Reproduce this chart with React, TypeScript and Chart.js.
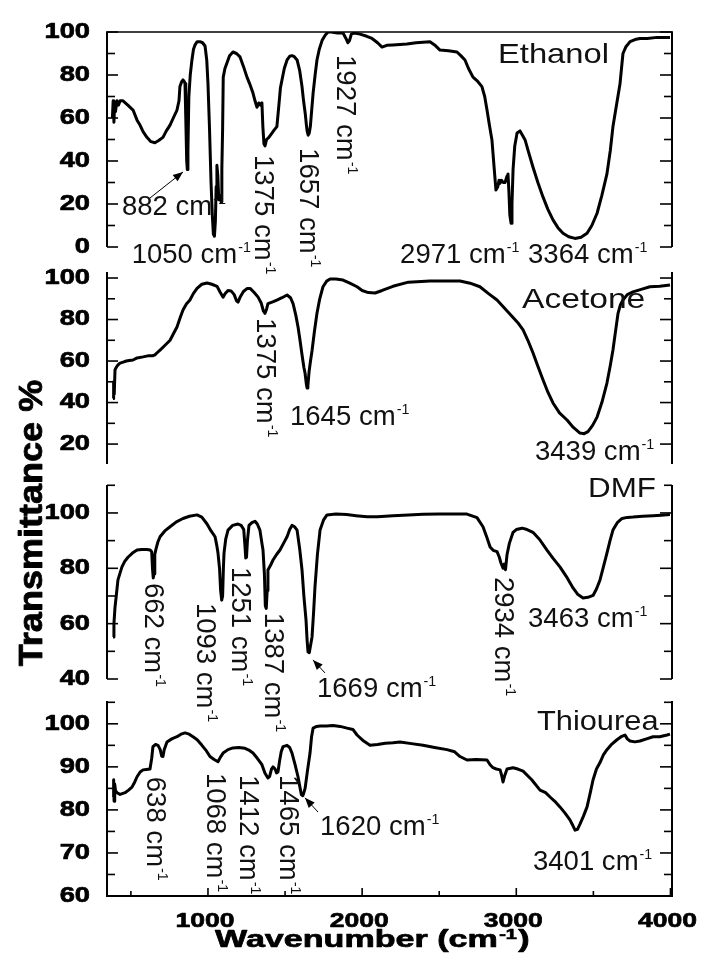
import React, { useEffect, useRef } from 'react';
import { Chart, registerables } from 'chart.js';
Chart.register(...registerables);

const W = 704;
const H = 976;
const X_MIN = 345;
const X_MAX = 4010;

// ---------- data ----------
const ethanolWn = [380, 385, 390, 395, 400, 410, 420, 430, 449, 480, 514, 540, 559, 580, 604, 630, 656, 680, 708, 730, 754, 775, 799, 812, 818, 830, 838, 846, 851, 856, 862, 866, 870, 876, 885, 896, 906, 916, 930, 948, 965, 981, 992, 1000, 1010, 1020, 1028, 1035, 1042, 1048, 1053, 1058, 1064, 1070, 1078, 1085, 1090, 1095, 1099, 1110, 1123, 1140, 1162, 1185, 1208, 1230, 1253, 1270, 1292, 1305, 1318, 1330, 1340, 1350, 1356, 1363, 1370, 1380, 1395, 1415, 1430, 1447, 1460, 1470, 1480, 1495, 1513, 1530, 1545, 1560, 1578, 1595, 1610, 1620, 1631, 1638, 1643, 1650, 1657, 1664, 1672, 1682, 1695, 1707, 1722, 1740, 1760, 1779, 1800, 1840, 1876, 1895, 1908, 1918, 1930, 1950, 1986, 2030, 2064, 2100, 2129, 2160, 2200, 2291, 2350, 2440, 2470, 2505, 2560, 2615, 2640, 2667, 2690, 2719, 2750, 2777, 2795, 2810, 2825, 2842, 2855, 2868, 2880, 2888, 2894, 2905, 2915, 2927, 2940, 2946, 2952, 2958, 2966, 2972, 2979, 2990, 3005, 3024, 3040, 3057, 3080, 3108, 3140, 3173, 3205, 3238, 3270, 3303, 3340, 3381, 3420, 3459, 3490, 3524, 3555, 3588, 3610, 3627, 3650, 3673, 3685, 3692, 3710, 3738, 3770, 3802, 3850, 3913, 3960, 3997];
const ethanolT = [60, 68, 58, 67, 63, 68, 66, 68, 68, 66, 63.7, 59, 56.7, 53.5, 51, 49, 48.5, 49.5, 51, 54, 56.7, 60, 63.7, 68, 74.6, 77, 77.7, 77, 76, 60, 40, 36, 45, 70, 80, 87, 92, 94, 95.5, 95.5, 95, 93.5, 87, 76, 55, 29.8, 15, 6, 5, 12, 28, 38, 33, 22, 24, 21, 36, 55, 79, 83, 85.6, 89, 90.7, 90, 88.4, 84, 79, 76, 71.6, 68, 65, 67, 66, 67, 56, 48, 47, 50, 51, 53, 54.5, 56, 66, 74, 77.7, 83, 87, 88.7, 89, 88.5, 87, 82, 74.6, 68, 62, 57, 54, 52, 53, 56, 63, 71.6, 80, 87, 92, 96, 98.5, 100, 100, 99.5, 99.5, 97, 95, 96, 99, 99.5, 99, 98, 97, 95, 93, 93.8, 94, 94.4, 95, 95.5, 94, 91.6, 91.3, 90.7, 89, 87, 83, 79, 77, 74.6, 70, 63.7, 57, 49.8, 38, 26.5, 28, 31, 29.6, 31, 30, 30, 33, 34, 26, 15, 11, 20, 36, 47, 53, 54, 52, 49.8, 44, 37.2, 30, 23.3, 17.5, 12.6, 9, 6.4, 4.8, 4, 4.5, 6.4, 10, 15.7, 24, 34, 45, 56, 66, 76, 85, 90, 93, 95.5, 96.5, 97, 97, 97.5, 97.5, 97.5];

const acetoneWn = [384, 388, 392, 397, 405, 415, 429, 450, 470, 490, 514, 540, 579, 610, 640, 656, 670, 689, 720, 754, 775, 799, 820, 838, 860, 883, 905, 929, 960, 994, 1025, 1059, 1080, 1098, 1112, 1130, 1150, 1170, 1185, 1195, 1210, 1230, 1255, 1273, 1300, 1325, 1345, 1360, 1370, 1380, 1389, 1420, 1447, 1480, 1513, 1535, 1552, 1570, 1585, 1597, 1610, 1622, 1630, 1638, 1643, 1648, 1656, 1665, 1675, 1690, 1707, 1725, 1746, 1770, 1792, 1830, 1876, 1920, 1967, 2000, 2040, 2084, 2130, 2200, 2300, 2440, 2550, 2635, 2700, 2764, 2820, 2875, 2930, 2979, 3010, 3044, 3075, 3108, 3140, 3173, 3205, 3238, 3280, 3329, 3370, 3413, 3440, 3465, 3495, 3524, 3555, 3588, 3610, 3627, 3645, 3660, 3675, 3692, 3720, 3757, 3810, 3867, 3930, 3997];
const acetoneT = [42, 50, 44, 55.7, 57, 58, 59, 59.5, 60, 60.3, 60.5, 61.5, 62, 62.5, 62.5, 63, 64, 65.3, 67.5, 70, 73, 76.4, 81, 84.6, 87.5, 89.4, 92.5, 95, 97, 97.6, 97, 96, 93, 90.8, 92.5, 94, 93.8, 92, 89, 88.4, 91, 93.5, 95, 95, 93, 90.8, 88, 84, 83, 85, 87.7, 88.5, 89.4, 90.5, 91.8, 90.5, 87.7, 82, 76, 70, 63, 57, 54, 49, 47, 48, 55, 60, 65, 74, 83, 90, 95.8, 98.5, 99.5, 99.5, 99, 97.5, 95.8, 94, 93, 92.8, 94, 96, 98, 98.6, 98.6, 98.6, 97.5, 95.8, 92.5, 89.4, 85, 81, 78.5, 75, 70, 64, 57.5, 51, 45, 39.8, 35, 31.6, 28, 25.3, 25, 26, 29, 33, 40, 49.4, 58, 65.3, 75, 83, 87, 89.4, 92, 93.3, 94.5, 95.8, 96, 96.6];

const dmfWn = [384, 390, 397, 405, 416, 428, 442, 460, 481, 510, 540, 570, 604, 625, 635, 640, 645, 650, 655, 663, 675, 689, 720, 754, 795, 838, 880, 929, 960, 994, 1020, 1046, 1058, 1065, 1075, 1082, 1089, 1095, 1100, 1104, 1115, 1130, 1160, 1195, 1215, 1232, 1240, 1245, 1250, 1256, 1266, 1285, 1305, 1320, 1337, 1350, 1357, 1366, 1372, 1378, 1384, 1389, 1405, 1422, 1445, 1467, 1490, 1513, 1530, 1545, 1562, 1578, 1595, 1610, 1622, 1636, 1643, 1649, 1657, 1665, 1675, 1685, 1694, 1710, 1727, 1750, 1772, 1830, 1900, 1960, 2032, 2100, 2200, 2300, 2395, 2500, 2600, 2680, 2745, 2784, 2810, 2830, 2850, 2875, 2890, 2900, 2914, 2922, 2930, 2940, 2955, 2979, 3000, 3037, 3070, 3108, 3150, 3199, 3240, 3283, 3325, 3368, 3400, 3433, 3465, 3498, 3520, 3543, 3565, 3588, 3608, 3627, 3655, 3686, 3720, 3757, 3820, 3887, 3940, 3997];
const dmfT = [55.2, 60, 66, 70, 75.8, 78, 80.5, 82.5, 84, 85.5, 86.6, 86.8, 86.8, 86.6, 86, 80, 76.5, 78, 85, 87, 89.5, 91.4, 93.5, 95, 96.8, 98, 98.8, 99.3, 98.5, 96, 93.5, 91.4, 88, 85.5, 80, 72, 68.5, 70, 80, 85.5, 90.5, 93.8, 95.5, 96, 95.5, 94, 88, 83.7, 84, 90, 95.5, 96.5, 97, 96, 93.8, 89, 86.6, 78, 66.5, 65.5, 72, 79.4, 81, 83, 85, 86.6, 89, 91.4, 94, 95.5, 95, 93.8, 87, 79.4, 70, 61.3, 54, 49.8, 49.5, 52, 55.2, 64, 73.2, 85, 93.8, 97.5, 99.3, 99.6, 99.4, 99, 98.6, 98.6, 99, 99.3, 99.5, 99.6, 99.6, 99.6, 98.3, 95, 91, 87.7, 86.5, 86, 84, 82, 80, 81.5, 79.5, 85, 89, 93, 94, 94.5, 94, 93, 90.5, 86.6, 83.5, 80.5, 77, 72.9, 70.5, 69.3, 69.5, 70.2, 72.5, 75.8, 80.5, 85.5, 90, 93.8, 96.5, 98, 98.4, 98.5, 98.8, 99, 99.2, 99.4];

const thioureaWn = [384, 388, 391, 395, 400, 410, 430, 462, 485, 507, 525, 540, 560, 579, 600, 624, 635, 643, 660, 676, 690, 700, 708, 716, 734, 765, 799, 825, 851, 878, 903, 930, 961, 990, 1013, 1040, 1065, 1080, 1098, 1130, 1162, 1200, 1240, 1265, 1292, 1320, 1350, 1370, 1389, 1400, 1412, 1422, 1435, 1445, 1454, 1465, 1475, 1487, 1513, 1530, 1545, 1565, 1584, 1598, 1606, 1615, 1622, 1630, 1645, 1662, 1672, 1682, 1705, 1727, 1770, 1811, 1857, 1902, 1940, 1967, 2010, 2051, 2100, 2150, 2200, 2246, 2320, 2395, 2470, 2550, 2600, 2635, 2680, 2740, 2810, 2830, 2849, 2870, 2895, 2905, 2914, 2925, 2940, 2979, 3010, 3044, 3100, 3154, 3190, 3219, 3250, 3283, 3315, 3348, 3365, 3381, 3397, 3413, 3435, 3459, 3480, 3498, 3520, 3543, 3565, 3588, 3620, 3653, 3680, 3705, 3720, 3738, 3770, 3802, 3845, 3887, 3930, 3978, 3997];
const thioureaT = [83, 87, 82, 86, 84.5, 84, 83.6, 84, 84.6, 85.3, 86.5, 87.7, 88.8, 89.3, 89.4, 89.5, 92, 94.7, 95.2, 95, 94, 92.5, 92.4, 94, 95.8, 96.5, 97, 97.6, 97.9, 97.6, 97, 96.3, 95, 93.7, 92.4, 91.7, 91.2, 92.2, 93.2, 94, 94.4, 94.5, 94.3, 93.9, 93.2, 92, 90.5, 88.5, 87.4, 87.8, 89.5, 90, 89.5, 88.6, 88.8, 91.5, 93.5, 94.7, 95, 94.5, 93.2, 90.5, 87.7, 85, 83.5, 83.3, 84, 85, 89, 93.2, 97, 99, 99.4, 99.5, 99.5, 99.6, 99.4, 99, 98.7, 97.4, 96, 95, 95.2, 95.5, 95.6, 95.8, 95.4, 95, 94.5, 94, 93.5, 92.4, 91.6, 91.7, 91.6, 90.5, 89.8, 89.5, 89.3, 88, 86.5, 88, 89.5, 89.8, 89.5, 89, 87, 84.6, 84, 83, 82, 80.7, 79.3, 77.7, 76.5, 75.3, 75.5, 76.7, 78.5, 80.7, 84, 87, 89.5, 91, 92.8, 94, 95.3, 96.3, 97, 97.4, 96.5, 96, 95.8, 96, 96.5, 97, 97, 97.4, 97.6];

// tick values
const ethanolMajor = [0, 20, 40, 60, 80, 100];
const ethanolMinor = [10, 30, 50, 70, 90];
const acetoneMajor = [20, 40, 60, 80, 100];
const acetoneMinor = [30, 50, 70, 90];
const dmfMajor = [40, 60, 80, 100];
const dmfMinor = [50, 70, 90, 110];
const thioureaMajor = [60, 70, 80, 90, 100];
const thioureaMinor = [65, 75, 85, 95, 105];
const xMajor = [1000, 2000, 3000, 4000];
const xMinor = [500, 1500, 2500, 3500];

// peak annotations (anchored in wavenumber / transmittance units)
type Ann = { text: string; wn: number; t: number; rot?: boolean; arrow?: [number, number, number, number] };
const ethanolAnns: Ann[] = [
  { text: '882 cm', wn: 442, t: 14.9, arrow: [624, 22.8, 838, 34.9] },
  { text: '1050 cm', wn: 505, t: -7.4 },
  { text: '1375 cm', wn: 1305, t: 42.8, rot: true },
  { text: '1657 cm', wn: 1597, t: 46, rot: true },
  { text: '1927 cm', wn: 1837, t: 89.3, rot: true },
  { text: '2971 cm', wn: 2246, t: -7.4 },
  { text: '3364 cm', wn: 3076, t: -7.4 },
];
const acetoneAnns: Ann[] = [
  { text: '1375 cm', wn: 1318, t: 80.7, rot: true },
  { text: '1645 cm', wn: 1532, t: 29.2 },
  { text: '3439 cm', wn: 3121, t: 12.3 },
];
const dmfAnns: Ann[] = [
  { text: '662 cm', wn: 592, t: 74.7, rot: true },
  { text: '1093 cm', wn: 929, t: 67.5, rot: true },
  { text: '1251 cm', wn: 1156, t: 80.5, rot: true },
  { text: '1387 cm', wn: 1370, t: 63.9, rot: true },
  { text: '1669 cm', wn: 1707, t: 33.5, arrow: [1759, 42.2, 1681, 46.9] },
  { text: '2934 cm', wn: 2862, t: 76.9, rot: true },
  { text: '3463 cm', wn: 3076, t: 58.8 },
];
const thioureaAnns: Ann[] = [
  { text: '638 cm', wn: 604, t: 87.7, rot: true },
  { text: '1068 cm', wn: 994, t: 88.6, rot: true },
  { text: '1412 cm', wn: 1208, t: 88.1, rot: true },
  { text: '1465 cm', wn: 1467, t: 88.1, rot: true },
  { text: '1620 cm', wn: 1727, t: 74.2, arrow: [1714, 79.5, 1629, 82.8] },
  { text: '3401 cm', wn: 3108, t: 66 },
];

type Panel = {
  name: string; nameWn: number; nameT: number; nameStretch: number;
  wn: number[]; t: number[]; min: number; max: number;
  major: number[]; minor: number[]; anns: Ann[];
  top: number; bottom: number; frameTop: boolean; xAxis: boolean;
};

const panels: Panel[] = [
  { name: 'Ethanol', nameWn: 2881, nameT: 85.6, nameStretch: 1.17, wn: ethanolWn, t: ethanolT, min: 0, max: 100, major: ethanolMajor, minor: ethanolMinor, anns: ethanolAnns, top: 32, bottom: 247, frameTop: true, xAxis: false },
  { name: 'Acetone', nameWn: 3037, nameT: 85.5, nameStretch: 1.2, wn: acetoneWn, t: acetoneT, min: 10.4, max: 102.9, major: acetoneMajor, minor: acetoneMinor, anns: acetoneAnns, top: 272, bottom: 464, frameTop: false, xAxis: false },
  { name: 'DMF', nameWn: 3465, nameT: 105.8, nameStretch: 1.12, wn: dmfWn, t: dmfT, min: 40, max: 110.1, major: dmfMajor, minor: dmfMinor, anns: dmfAnns, top: 485, bottom: 679, frameTop: false, xAxis: false },
  { name: 'Thiourea', nameWn: 3134, nameT: 98.6, nameStretch: 1.1, wn: thioureaWn, t: thioureaT, min: 60, max: 105.3, major: thioureaMajor, minor: thioureaMinor, anns: thioureaAnns, top: 701, bottom: 896, frameTop: false, xAxis: true },
];

// ---------- drawing helpers ----------
const FAM = '"Liberation Sans", Arial, sans-serif';
type Part = { t: string; sup?: boolean };
type TOpt = { size: number; supSize?: number; raise?: number; bold?: boolean; heavy?: number; stretch?: number; align?: 'left' | 'center' | 'right'; rot?: number; color?: string };

function drawParts(ctx: CanvasRenderingContext2D, parts: Part[], x: number, y: number, o: TOpt) {
  const fnt = (s: number) => `${o.bold ? 'bold ' : ''}${s}px ${FAM}`;
  const supSize = o.supSize ?? Math.round(o.size * 0.55);
  const stretch = o.stretch ?? 1;
  const widths = parts.map((p) => {
    ctx.font = fnt(p.sup ? supSize : o.size);
    return ctx.measureText(p.t).width + (p.sup ? 2 : 0);
  });
  const total = widths.reduce((a, b) => a + b, 0);
  ctx.save();
  ctx.translate(x, y);
  ctx.rotate(o.rot ?? 0);
  ctx.scale(stretch, 1);
  ctx.fillStyle = o.color ?? '#000';
  ctx.strokeStyle = o.color ?? '#000';
  ctx.lineJoin = 'round';
  ctx.textAlign = 'left';
  ctx.textBaseline = 'alphabetic';
  let cx = o.align === 'center' ? -total / 2 : o.align === 'right' ? -total : 0;
  parts.forEach((p, i) => {
    ctx.font = fnt(p.sup ? supSize : o.size);
    const px = cx + (p.sup ? 1 : 0);
    const py = p.sup ? -(o.raise ?? 10) : 0;
    ctx.fillText(p.t, px, py);
    if (o.heavy) {
      ctx.lineWidth = o.heavy;
      ctx.strokeText(p.t, px, py);
    }
    cx += widths[i];
  });
  ctx.restore();
}

function line(ctx: CanvasRenderingContext2D, x1: number, y1: number, x2: number, y2: number) {
  ctx.beginPath();
  ctx.moveTo(x1, y1);
  ctx.lineTo(x2, y2);
  ctx.stroke();
}

function makeOverlay(p: Panel) {
  return {
    id: 'overlay',
    afterDraw(chart: any) {
      const ctx: CanvasRenderingContext2D = chart.ctx;
      const xs = chart.scales.x;
      const ys = chart.scales.y;
      const { left, right, top, bottom } = chart.chartArea;
      ctx.save();
      ctx.strokeStyle = '#000';
      ctx.fillStyle = '#000';
      ctx.lineCap = 'butt';
      // axis lines
      ctx.lineWidth = 2;
      line(ctx, left, top, left, bottom + (p.xAxis ? 1 : 0));
      line(ctx, right, top, right, bottom + (p.xAxis ? 1 : 0));
      if (p.frameTop) {
        ctx.lineWidth = 1.5;
        line(ctx, left - 1, top, right + 1, top);
      }
      // y ticks (inward)
      ctx.lineWidth = 1.6;
      p.major.forEach((v) => {
        const y = ys.getPixelForValue(v);
        line(ctx, left, y, left + 11, y);
        line(ctx, right, y, right - 12, y);
      });
      p.minor.forEach((v) => {
        if (v < p.min || v > p.max) return;
        const y = ys.getPixelForValue(v);
        line(ctx, left, y, left + 8, y);
        line(ctx, right, y, right - 8, y);
      });
      // y tick labels
      p.major.forEach((v) => {
        const y = ys.getPixelForValue(v);
        drawParts(ctx, [{ t: String(v) }], 90, y + 22 * 0.358 - 2, { size: 22, bold: true, heavy: 0.7, stretch: 1.24, align: 'right' });
      });
      // x axis (bottom panel only)
      if (p.xAxis) {
        ctx.lineWidth = 2;
        line(ctx, left - 1, bottom, right + 1, bottom);
        ctx.lineWidth = 1.6;
        xMajor.forEach((v) => {
          const x = xs.getPixelForValue(v);
          line(ctx, x, bottom, x, bottom - 8);
        });
        xMinor.forEach((v) => {
          const x = xs.getPixelForValue(v);
          line(ctx, x, bottom, x, bottom - 5);
        });
        xMajor.forEach((v) => {
          const x = xs.getPixelForValue(v);
          drawParts(ctx, [{ t: String(v) }], x - 3, 927, { size: 19.5, bold: true, heavy: 0.6, stretch: 1.36, align: 'center' });
        });
        drawParts(ctx, [{ t: 'Wavenumber (cm' }, { t: '-1', sup: true }, { t: ')' }], 215, 947, { size: 24, supSize: 14, raise: 8, bold: true, heavy: 0.7, stretch: 1.42, align: 'left' });
        drawParts(ctx, [{ t: 'Transmittance %' }], 42, 523, { size: 34, bold: true, heavy: 0.8, stretch: 1.06, align: 'center', rot: -Math.PI / 2 });
      }
      // panel name
      drawParts(ctx, [{ t: p.name }], xs.getPixelForValue(p.nameWn), ys.getPixelForValue(p.nameT), { size: 28, stretch: p.nameStretch, color: '#111' });
      // annotations
      p.anns.forEach((a) => {
        const x = xs.getPixelForValue(a.wn);
        const y = ys.getPixelForValue(a.t);
        drawParts(ctx, [{ t: a.text }, { t: '-1', sup: true }], x, y, { size: 27, supSize: 14, raise: 11, stretch: 1.02, rot: a.rot ? Math.PI / 2 : 0, color: '#111' });
        if (a.arrow) {
          const x1 = xs.getPixelForValue(a.arrow[0]);
          const y1 = ys.getPixelForValue(a.arrow[1]);
          const x2 = xs.getPixelForValue(a.arrow[2]);
          const y2 = ys.getPixelForValue(a.arrow[3]);
          ctx.lineWidth = 1;
          line(ctx, x1, y1, x2, y2);
          const ang = Math.atan2(y2 - y1, x2 - x1);
          const L = 10, Wd = 4;
          ctx.beginPath();
          ctx.moveTo(x2, y2);
          ctx.lineTo(x2 - L * Math.cos(ang) + Wd * Math.sin(ang), y2 - L * Math.sin(ang) - Wd * Math.cos(ang));
          ctx.lineTo(x2 - L * Math.cos(ang) - Wd * Math.sin(ang), y2 - L * Math.sin(ang) + Wd * Math.cos(ang));
          ctx.closePath();
          ctx.fill();
        }
      });
      ctx.restore();
    },
  };
}

function PanelChart({ p }: { p: Panel }) {
  const ref = useRef<HTMLCanvasElement>(null);
  useEffect(() => {
    if (!ref.current) return;
    const chart = new Chart(ref.current, {
      type: 'line',
      data: {
        datasets: [
          {
            data: p.wn.map((x, i) => ({ x, y: p.t[i] })),
            borderColor: '#000',
            borderWidth: 3,
            pointRadius: 0,
            fill: false,
            tension: 0,
            borderJoinStyle: 'round',
          } as any,
        ],
      },
      options: {
        responsive: false,
        animation: false,
        devicePixelRatio: 1,
        events: [],
        layout: { padding: { left: 107, right: W - 672, top: p.top, bottom: H - p.bottom } },
        scales: {
          x: { type: 'linear', min: X_MIN, max: X_MAX, display: false },
          y: { type: 'linear', min: p.min, max: p.max, display: false },
        },
        plugins: { legend: { display: false }, tooltip: { enabled: false }, title: { display: false } },
      },
      plugins: [makeOverlay(p) as any],
    });
    return () => chart.destroy();
  }, [p]);
  return <canvas ref={ref} width={W} height={H} style={{ position: 'absolute', left: 0, top: 0, width: W, height: H }} />;
}

export default function App() {
  return (
    <div style={{ position: 'absolute', left: 0, top: 0, width: W, height: H, background: '#fff', overflow: 'hidden' }}>
      {panels.map((p) => (
        <PanelChart key={p.name} p={p} />
      ))}
    </div>
  );
}
